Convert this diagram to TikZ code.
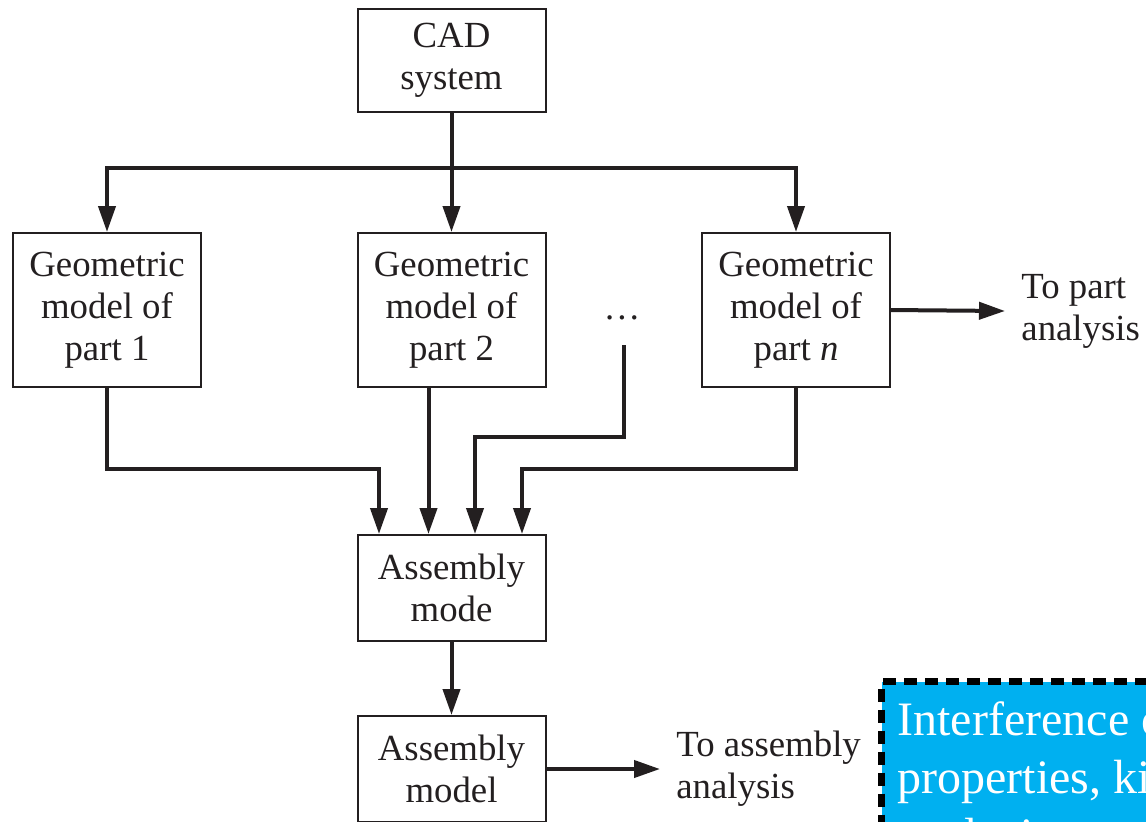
\documentclass[tikz,border=0pt]{standalone}
\usepackage{fontspec}
\setmainfont{Liberation Serif}
\usetikzlibrary{arrows.meta}
\definecolor{noteblue}{RGB}{0,176,240}
\definecolor{inkgray}{RGB}{35,31,32}
\begin{document}
\begin{tikzpicture}[x=0.5pt, y=-0.5pt, line join=miter, >={Triangle[length=13pt,width=8.5pt]},
		font=\fontsize{18.4}{21}\selectfont, text=inkgray,
		block/.style={draw=inkgray, line width=1pt, align=center, minimum width=94pt, minimum height=77pt, inner sep=0pt},
		flow/.style={->, draw=inkgray, line width=2pt},
		outlabel/.style={anchor=west, align=left, inner xsep=8pt, inner ysep=0pt},
		note/.style={draw=black, fill=noteblue, text=white, line width=3.5pt, dash pattern=on 6.5pt off 4pt,
			inner xsep=8pt, inner ysep=10pt, font=\fontsize{24}{29}\selectfont}]
	\useasboundingbox (0,0) rectangle (1146,821);
	\clip (0,0) rectangle (1146,821);
	% boxes
	\node[block, minimum height=51.5pt] (cad) at (451.5,60.5) {CAD\\system};
	\node[block] (geo1) at (107,310) {Geometric\\model of\\part 1};
	\node[block] (geo2) at (451.5,310) {Geometric\\model of\\part 2};
	\node[block] (geon) at (796,310) {Geometric\\model of\\part \textit{n}};
	\node (dots) at (622,318) {\dots};
	\node[block, minimum height=53pt] (amode) at (451.5,588) {Assembly\\mode};
	\node[block, minimum height=53pt] (amodel) at (451.5,769) {Assembly\\model};
	\node[outlabel] (topart) at (1005,311) {To part\\analysis};
	\node[outlabel] (toasm) at (660,769) {To assembly\\analysis};
	% junctions
	\coordinate (split) at (451.5,168);
	\coordinate (dd) at (624,345);
	\coordinate (A1) at (379,469);
	\coordinate (A2) at (428.5,469);
	\coordinate (A3) at (475,437);
	\coordinate (A4) at (522,469);
	% CAD to the part models
	\draw[flow] (cad) -- (geo2);
	\draw[flow] (split) -| (geo1.north);
	\draw[flow] (split) -| (geon.north);
	% part models to assembly
	\draw[flow] (geo1.south) |- (A1) -- (A1 |- amode.north);
	\draw[flow] (A2 |- geo2.south) -- (A2 |- amode.north);
	\draw[flow] (dd) |- (A3) -- (A3 |- amode.north);
	\draw[flow] (geon.south) |- (A4) -- (A4 |- amode.north);
	\draw[flow] (amode) -- (amodel);
	\draw[flow] (geon.east) -- (topart.west);
	\draw[flow] (amodel.east) -- (toasm.west);
	% note
	\node[note, anchor=north west] (remark) at (878,678)
		{\parbox[c][180pt][t]{360pt}{\raggedright Interference checking, mass\\properties, kinematic\\analysis}};
\end{tikzpicture}
\end{document}
